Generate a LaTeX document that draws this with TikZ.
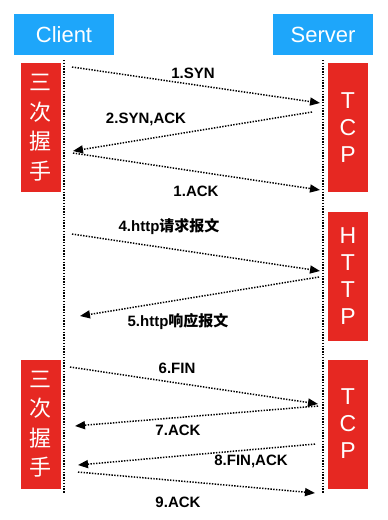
\documentclass[tikz,border=0pt]{standalone}
\usepackage{fontspec}
\setmainfont{Liberation Sans}
\newfontfamily\cjk{Noto Sans CJK SC}
\usetikzlibrary{arrows.meta}
\definecolor{headblue}{RGB}{30,166,250}
\definecolor{phasered}{RGB}{230,40,34}
\begin{document}
\begin{tikzpicture}[x=1pt, y=-1pt,
		head/.style={fill=headblue, text=white, minimum width=100pt, minimum height=41pt, inner sep=0pt, font=\fontsize{22}{24}\selectfont},
		phase/.style={fill=phasered, text=white, minimum width=40pt, minimum height=129pt, inner sep=0pt, align=center},
		hand/.style={font=\cjk\fontsize{22}{29.5}\selectfont},
		proto/.style={font=\fontsize{23}{27}\selectfont},
		life/.style={line width=1.5pt, dash pattern=on 1.4pt off 1.4pt},
		msg/.style={-{Triangle[length=10pt,width=8pt]}, line width=1.5pt, dash pattern=on 1.4pt off 1.4pt},
		lbl/.style={font=\bfseries\fontsize{15}{17}\selectfont}]
		\useasboundingbox (0,0) rectangle (388,520);

		% the two parties
		\node[head] at (64,34.5) (client) {Client};
		\node[head] at (323,34.5) (server) {Server};

		% lifelines
		\coordinate (ctop) at (64,60);
		\coordinate (cbot) at (64,493);
		\coordinate (stop) at (323,60);
		\coordinate (sbot) at (323,493);
		\draw[life] (ctop) -- (cbot);
		\draw[life] (stop) -- (sbot);

		% phases
		\node[phase, hand] at (41,127.5) (shake) {三\\次\\握\\手};
		\node[phase, proto] at (348,127.5) (tcpa) {T\\C\\P};
		\node[phase, proto] at (348,276.5) (http) {H\\T\\T\\P};
		\node[phase, hand] at (41,424) (wave) {三\\次\\握\\手};
		\node[phase, proto] at (348,424) (tcpb) {T\\C\\P};

		% handshake
		\coordinate (a1) at (72,67);   \coordinate (b1) at (320,103);
		\coordinate (a2) at (312,112); \coordinate (b2) at (73,151);
		\coordinate (a3) at (73,153);  \coordinate (b3) at (320,190);
		\path[msg] (a1) edge (b1) (a2) edge (b2) (a3) edge (b3);
		\node[lbl] at (193,73) (syn) {1.SYN};
		\node[lbl] at (146,119) (synack) {2.SYN,ACK};
		\node[lbl] at (196,191) (ack) {1.ACK};

		% request and response
		\coordinate (a4) at (72,234);  \coordinate (b4) at (320,271);
		\coordinate (a5) at (319,277); \coordinate (b5) at (80,316);
		\path[msg] (a4) edge (b4) (a5) edge (b5);
		\node[lbl] at (169,227) (req) {4.http{\cjk 请求报文}};
		\node[lbl] at (178,322) (resp) {5.http{\cjk 响应报文}};

		% closing
		\coordinate (a6) at (70,367);  \coordinate (b6) at (318,404);
		\coordinate (a7) at (318,406); \coordinate (b7) at (75,426);
		\coordinate (a8) at (315,444); \coordinate (b8) at (78,465);
		\coordinate (a9) at (78,472);  \coordinate (b9) at (315,493);
		\path[msg] (a6) edge (b6) (a7) edge (b7) (a8) edge (b8) (a9) edge (b9);
		\node[lbl] at (177,368) (fin) {6.FIN};
		\node[lbl] at (178,430) (ack7) {7.ACK};
		\node[lbl] at (251,461) (finack) {8.FIN,ACK};
		\node[lbl] at (178,502) (ack9) {9.ACK};
	\end{tikzpicture}
\end{document}
